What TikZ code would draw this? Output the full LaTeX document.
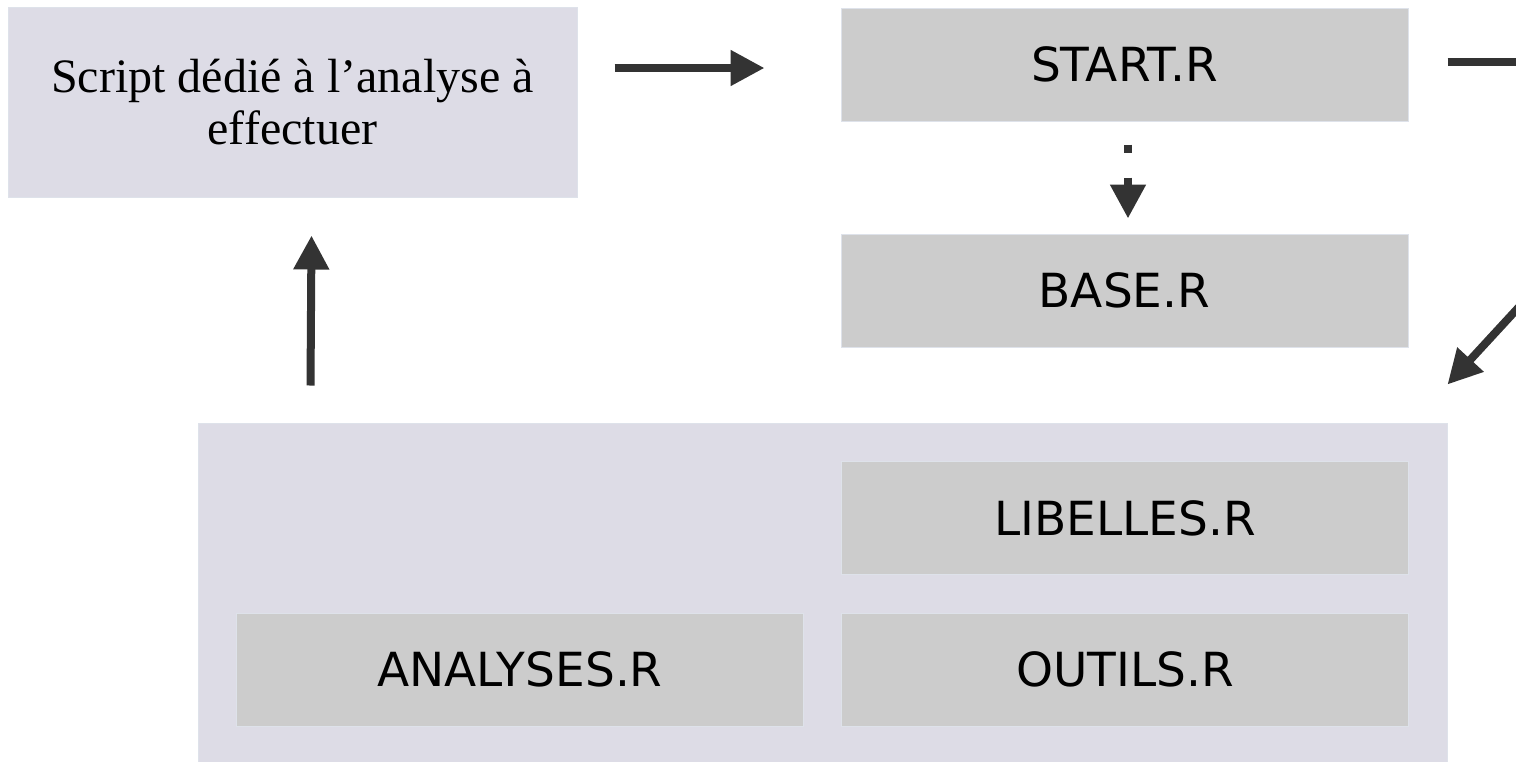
\documentclass[tikz,border=0pt]{standalone}
\usepackage{fontspec}
\setmainfont{Liberation Serif}
\setsansfont{DejaVu Sans}
\usetikzlibrary{arrows.meta}
\definecolor{lavender}{RGB}{221,220,230}
\definecolor{boxgrey}{RGB}{204,204,204}
\definecolor{edgegrey}{RGB}{222,226,234}
\definecolor{arrowgrey}{RGB}{51,51,51}
\begin{document}
\begin{tikzpicture}[x=1pt, y=-1pt,
        lavbox/.style={rectangle, fill=lavender, draw=edgegrey, line width=1pt, inner sep=0pt},
        greybox/.style={rectangle, fill=boxgrey, draw=edgegrey, line width=1pt, inner sep=0pt,
            minimum width=567pt, minimum height=113pt, font=\sffamily\fontsize{47}{56}\selectfont},
        link/.style={draw=arrowgrey, line width=8pt, -{Triangle[length=34pt, width=34pt]}}]
        \useasboundingbox (0,0) rectangle (1516,761);
        \clip (0,0) rectangle (1516,761);
        \coordinate (c1) at (292.5,102);
        \coordinate (c2) at (1124.5,64.5);
        \coordinate (c3) at (1124.5,290.5);
        \coordinate (c4) at (822.5,594);
        \coordinate (c5) at (1125,518);
        \coordinate (c6) at (520,669.5);
        \coordinate (c7) at (1125,669.5);
        \coordinate (out1) at (1530,62);
        \coordinate (out2) at (1530,295);
        \node[lavbox, minimum width=569pt, minimum height=190pt, align=center,
            font=\fontsize{48}{52}\selectfont] (script) at (c1) {Script dédié à l’analyse à\\effectuer};
        \node[greybox] (start) at (c2) {START.R};
        \node[greybox] (base) at (c3) {BASE.R};
        \node[lavbox, minimum width=1249pt, minimum height=342pt] (frame) at (c4) {};
        \node[greybox] (libelles) at (c5) {LIBELLES.R};
        \node[greybox] (analyses) at (c6) {ANALYSES.R};
        \node[greybox] (outils) at (c7) {OUTILS.R};
        \draw[link] ([shift={(37,-34)}]script.east) -- ([shift={(-76,3.5)}]start.west);
        \draw[link, dash pattern=on 8pt off 25pt] ([shift={(3.5,23)}]start.south) -- ([shift={(3.5,-15)}]base.north);
        \draw[draw=arrowgrey, line width=8pt] ([shift={(39,-2.5)}]start.east) -- (out1);
        \draw[link] (out2) -- ([shift={(0,-38)}]frame.north east);
        \draw[link] ([shift={(113,-37)}]frame.north west) -- ([shift={(19,38)}]script.south);
    \end{tikzpicture}
\end{document}
